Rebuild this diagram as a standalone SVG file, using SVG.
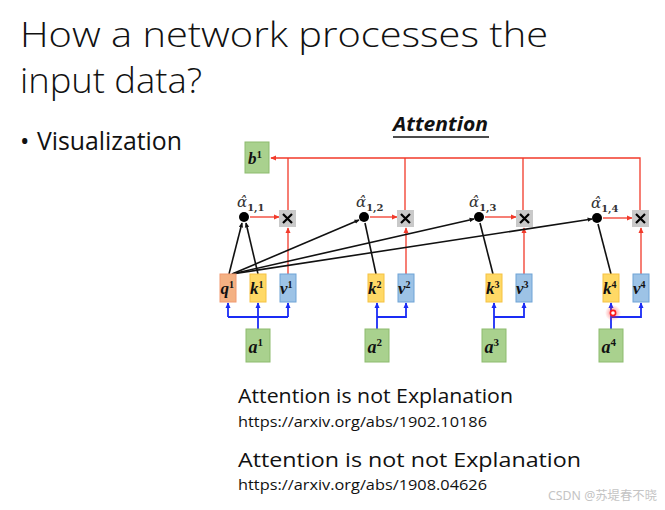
<svg xmlns="http://www.w3.org/2000/svg" width="665" height="510" viewBox="0 0 665 510">
<defs>
<style>
.ttl{font-family:"Open Sans","Noto Sans",sans-serif;font-weight:300;fill:#111}
.body{font-family:"Open Sans","Noto Sans",sans-serif;fill:#111}
.lbl{font-family:"Liberation Serif","DejaVu Serif",serif;font-weight:bold;font-style:italic;fill:#111}
.sup{font-style:normal;font-weight:bold}
.alp{font-family:"DejaVu Serif",serif;font-style:italic;fill:#333}
.sub{font-family:"DejaVu Serif",serif;font-style:normal;font-weight:bold;fill:#333}
.q{fill:#f4b183;stroke:#f19a70;stroke-width:1}
.k{fill:#ffd966;stroke:#f5c243;stroke-width:1}
.v{fill:#9dc3e6;stroke:#6fa3d6;stroke-width:1}
.g{fill:#a9d18e;stroke:#8dbb6e;stroke-width:1}
.x{fill:#c9c9c9}
.xs{stroke:#000;stroke-width:2.2;fill:none}
.red{stroke:#f23a2a;stroke-width:1.3;fill:none}
.blue{stroke:#1a2cf5;stroke-width:1.8;fill:none}
.blk{stroke:#111;stroke-width:1.6;fill:none}
</style>
<marker id="ar" viewBox="0 0 8 8" refX="7" refY="4" markerWidth="6" markerHeight="6" orient="auto" markerUnits="userSpaceOnUse"><path d="M0,0.5 L8,4 L0,7.5 Z" fill="#f23a2a"/></marker>
<marker id="ab" viewBox="0 0 8 8" refX="7" refY="4" markerWidth="6" markerHeight="6" orient="auto" markerUnits="userSpaceOnUse"><path d="M0,0.5 L8,4 L0,7.5 Z" fill="#1a2cf5"/></marker>
<marker id="ak" viewBox="0 0 8 8" refX="7" refY="4" markerWidth="5" markerHeight="5" orient="auto" markerUnits="userSpaceOnUse"><path d="M0,0.5 L8,4 L0,7.5 Z" fill="#111"/></marker>
<radialGradient id="glow"><stop offset="0" stop-color="#ff3030" stop-opacity="0.6"/><stop offset="1" stop-color="#ff3030" stop-opacity="0"/></radialGradient>
</defs>
<rect width="665" height="510" fill="#fff"/>

<g id="title">
<text class="ttl" x="20" y="47" font-size="35" textLength="528" lengthAdjust="spacingAndGlyphs">How a network processes the</text>
<text class="ttl" x="20" y="93" font-size="35" textLength="182" lengthAdjust="spacingAndGlyphs">input data?</text>
</g>
<g id="bullet">
<text class="body" x="20" y="150" font-size="25">•</text>
<text class="body" x="37" y="150" font-size="25" textLength="145" lengthAdjust="spacingAndGlyphs">Visualization</text>
</g>
<g id="heading">
<text class="body" x="393" y="131" font-size="20" font-weight="bold" font-style="italic" textLength="95" lengthAdjust="spacingAndGlyphs">Attention</text>
<line x1="393" y1="137" x2="489" y2="137" stroke="#111" stroke-width="1.5"/>
</g>

<g id="connectors">
<path class="red" d="M640,210 V158 H271" marker-end="url(#ar)"/>
<path class="red" d="M288,210 V158 M405,210 V158 M523,210 V158"/>
<path class="red" d="M288,274 V228" marker-end="url(#ar)"/>
<path class="red" d="M406,274 V228" marker-end="url(#ar)"/>
<path class="red" d="M524,274 V228" marker-end="url(#ar)"/>
<path class="red" d="M641,274 V228" marker-end="url(#ar)"/>
<path class="red" d="M250,217 H279" marker-end="url(#ar)"/>
<path class="red" d="M370,217 H397" marker-end="url(#ar)"/>
<path class="red" d="M485,217 H516" marker-end="url(#ar)"/>
<path class="red" d="M603,218 H632" marker-end="url(#ar)"/>
<path class="blk" d="M229,274 L242,223" marker-end="url(#ak)"/>
<path class="blk" d="M258,274 L246,223" marker-end="url(#ak)"/>
<path class="blk" d="M232,274 L359,220" marker-end="url(#ak)"/>
<path class="blk" d="M232,274 L474,219" marker-end="url(#ak)"/>
<path class="blk" d="M232,274 L592,219" marker-end="url(#ak)"/>
<path class="blk" d="M376,274 L365,223"/>
<path class="blk" d="M493,274 L480,223"/>
<path class="blk" d="M611,274 L598,224"/>
<path class="blue" d="M258,329 V303" marker-end="url(#ab)"/>
<path class="blue" d="M228,317 H288"/>
<path class="blue" d="M228,317 V303" marker-end="url(#ab)"/>
<path class="blue" d="M288,317 V303" marker-end="url(#ab)"/>
<path class="blue" d="M377,329 V303" marker-end="url(#ab)"/>
<path class="blue" d="M377,317 H406 V303" marker-end="url(#ab)"/>
<path class="blue" d="M494,329 V303" marker-end="url(#ab)"/>
<path class="blue" d="M494,317 H524 V303" marker-end="url(#ab)"/>
<path class="blue" d="M611,329 V303" marker-end="url(#ab)"/>
<path class="blue" d="M611,317 H641 V303" marker-end="url(#ab)"/>
</g>

<g id="b1"><rect class="g" x="245" y="142" width="24" height="31"/><text class="lbl" x="248" y="164" font-size="17">b<tspan class="sup" font-size="11" dy="-6">1</tspan></text></g>

<g id="dot1"><circle cx="244" cy="217" r="5" fill="#000"/><text class="alp" x="237" y="207" font-size="15">α̂<tspan class="sub" font-size="10" dy="4">1,1</tspan></text></g>
<g id="dot2"><circle cx="364" cy="217" r="5" fill="#000"/><text class="alp" x="356" y="207" font-size="15">α̂<tspan class="sub" font-size="10" dy="4">1,2</tspan></text></g>
<g id="dot3"><circle cx="479" cy="217" r="5" fill="#000"/><text class="alp" x="469" y="207" font-size="15">α̂<tspan class="sub" font-size="10" dy="4">1,3</tspan></text></g>
<g id="dot4"><circle cx="597" cy="218" r="5" fill="#000"/><text class="alp" x="591" y="208" font-size="15">α̂<tspan class="sub" font-size="10" dy="4">1,4</tspan></text></g>

<g id="mul1"><rect class="x" x="279" y="210" width="17" height="17"/><path class="xs" d="M283,214 L292,223 M292,214 L283,223"/></g>
<g id="mul2"><rect class="x" x="397" y="210" width="17" height="17"/><path class="xs" d="M401,214 L410,223 M410,214 L401,223"/></g>
<g id="mul3"><rect class="x" x="516" y="210" width="17" height="17"/><path class="xs" d="M520,214 L529,223 M529,214 L520,223"/></g>
<g id="mul4"><rect class="x" x="632" y="210" width="17" height="17"/><path class="xs" d="M636,214 L645,223 M645,214 L636,223"/></g>

<g id="q1"><rect class="q" x="220" y="274" width="16" height="28"/><text class="lbl" x="220.5" y="294" font-size="17">q<tspan class="sup" font-size="10" dy="-6">1</tspan></text></g>
<g id="k1"><rect class="k" x="250" y="274" width="16" height="28"/><text class="lbl" x="250" y="294" font-size="17">k<tspan class="sup" font-size="10" dy="-6">1</tspan></text></g>
<g id="v1"><rect class="v" x="280" y="274" width="16" height="28"/><text class="lbl" x="280" y="294" font-size="17">v<tspan class="sup" font-size="10" dy="-6">1</tspan></text></g>
<g id="k2"><rect class="k" x="368" y="274" width="16" height="28"/><text class="lbl" x="368" y="294" font-size="17">k<tspan class="sup" font-size="10" dy="-6">2</tspan></text></g>
<g id="v2"><rect class="v" x="398" y="274" width="16" height="28"/><text class="lbl" x="398" y="294" font-size="17">v<tspan class="sup" font-size="10" dy="-6">2</tspan></text></g>
<g id="k3"><rect class="k" x="486" y="274" width="16" height="28"/><text class="lbl" x="486" y="294" font-size="17">k<tspan class="sup" font-size="10" dy="-6">3</tspan></text></g>
<g id="v3"><rect class="v" x="516" y="274" width="16" height="28"/><text class="lbl" x="516" y="294" font-size="17">v<tspan class="sup" font-size="10" dy="-6">3</tspan></text></g>
<g id="k4"><rect class="k" x="603" y="274" width="16" height="28"/><text class="lbl" x="603" y="294" font-size="17">k<tspan class="sup" font-size="10" dy="-6">4</tspan></text></g>
<g id="v4"><rect class="v" x="633" y="274" width="16" height="28"/><text class="lbl" x="633" y="294" font-size="17">v<tspan class="sup" font-size="10" dy="-6">4</tspan></text></g>

<g id="a1"><rect class="g" x="246" y="329" width="24" height="33"/><text class="lbl" x="248.5" y="353" font-size="18">a<tspan class="sup" font-size="11" dy="-7">1</tspan></text></g>
<g id="a2"><rect class="g" x="365" y="329" width="24" height="33"/><text class="lbl" x="367.5" y="353" font-size="18">a<tspan class="sup" font-size="11" dy="-7">2</tspan></text></g>
<g id="a3"><rect class="g" x="482" y="329" width="24" height="33"/><text class="lbl" x="484.5" y="353" font-size="18">a<tspan class="sup" font-size="11" dy="-7">3</tspan></text></g>
<g id="a4"><rect class="g" x="599" y="329" width="24" height="33"/><text class="lbl" x="601.5" y="353" font-size="18">a<tspan class="sup" font-size="11" dy="-7">4</tspan></text></g>

<g id="cursor"><circle cx="613" cy="313" r="8" fill="url(#glow)"/><circle cx="613" cy="313" r="2.6" fill="#fff" stroke="#ff1a1a" stroke-width="1.6"/></g>

<g id="refs">
<text class="body" x="238" y="403" font-size="20" textLength="275" lengthAdjust="spacingAndGlyphs">Attention is not Explanation</text>
<text class="body" x="238" y="427" font-size="15" textLength="249" lengthAdjust="spacingAndGlyphs">https://arxiv.org/abs/1902.10186</text>
<text class="body" x="238" y="467" font-size="20" textLength="343" lengthAdjust="spacingAndGlyphs">Attention is not not Explanation</text>
<text class="body" x="238" y="490" font-size="15" textLength="249" lengthAdjust="spacingAndGlyphs">https://arxiv.org/abs/1908.04626</text>
</g>
<g id="watermark"><text x="548" y="500" font-size="12" fill="#c4c4c4" font-family="'Noto Sans','Noto Sans CJK SC',sans-serif" textLength="109" lengthAdjust="spacingAndGlyphs">CSDN @苏堤春不晓</text></g>
</svg>
